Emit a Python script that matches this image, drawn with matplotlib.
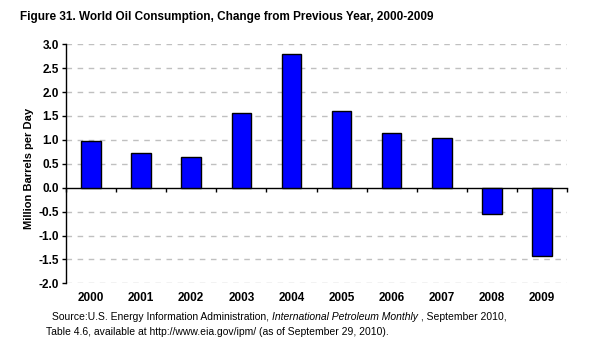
import matplotlib
matplotlib.use("Agg")
import matplotlib.pyplot as plt
import numpy as np

years = ["2000", "2001", "2002", "2003", "2004", "2005", "2006", "2007", "2008", "2009"]
change = [0.98, 0.72, 0.65, 1.56, 2.79, 1.60, 1.15, 1.04, -0.54, -1.42]
yticks = [-2.0, -1.5, -1.0, -0.5, 0.0, 0.5, 1.0, 1.5, 2.0, 2.5, 3.0]

title = "Figure 31. World Oil Consumption, Change from Previous Year, 2000-2009"
ylabel = "Million Barrels per Day"

plt.rcParams["font.family"] = ["Liberation Sans", "DejaVu Sans"]

W, H = 599, 349
fig = plt.figure(figsize=(W / 100, H / 100), dpi=100)
ax = fig.add_axes([66 / W, 1 - 283.3 / H, (567 - 66) / W, (283.3 - 44.3) / H])

x = np.arange(len(years))
ax.bar(x, change, width=0.39, color="#0000FF", edgecolor="black", linewidth=1.0, zorder=3)

ax.set_xlim(-0.5, len(years) - 0.5)
ax.set_ylim(yticks[0], yticks[-1])
ax.set_yticks(yticks)
ax.set_yticklabels([f"{v:.1f}" for v in yticks], fontsize=8.5, fontweight="bold")
ax.tick_params(axis="y", direction="out", length=3, width=1, pad=2)

ax.set_xticks(x)
ax.set_xticklabels(years, fontsize=8.5, fontweight="bold")
ax.tick_params(axis="x", length=0, pad=6)

for s in ["top", "right", "bottom"]:
    ax.spines[s].set_visible(False)
ax.spines["left"].set_linewidth(1)

for v in yticks:
    if v != 0:
        ax.axhline(v, color="#c0c0c0", linewidth=1, linestyle=(0, (4, 4)), zorder=1)

# zero line with category boundary ticks
zero_frac = (0 - yticks[0]) / (yticks[-1] - yticks[0])
sec = ax.secondary_xaxis(zero_frac)
sec.set_xticks(np.arange(len(years) + 1) - 0.5)
sec.set_xticklabels([])
sec.tick_params(direction="out", length=3, width=1)
sec.spines["bottom"].set_linewidth(1)

ax.set_ylabel(ylabel, fontsize=8, fontweight="bold")
ax.yaxis.set_label_coords(-0.064, 0.48)

fig.text(20 / W, 1 - 17 / H, title, fontsize=8.5, fontweight="bold", va="center", ha="left")

# source note with italic title
fs = 7.5
fig.canvas.draw()
r = fig.canvas.get_renderer()
xpos = 52
parts = [("Source:U.S. Energy Information Administration, ", "normal"),
         ("International Petroleum Monthly", "italic"),
         (" , September 2010,", "normal")]
for txt, st in parts:
    t = fig.text(xpos / W, 1 - 317 / H, txt, fontsize=fs, style=st,
                 va="center", ha="left")
    bb = t.get_window_extent(renderer=r)
    xpos += bb.width
fig.text(46 / W, 1 - 332 / H,
         "Table 4.6, available at http://www.eia.gov/ipm/ (as of September 29, 2010).",
         fontsize=fs, va="center", ha="left")

fig.savefig("out.png", dpi=100)
